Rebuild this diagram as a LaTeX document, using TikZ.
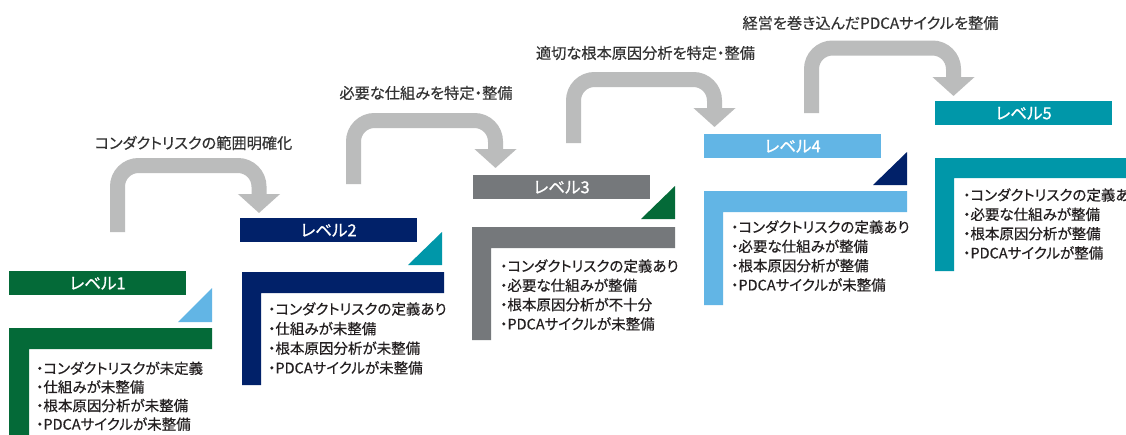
\documentclass[tikz,border=0pt]{standalone}
\usepackage{fontspec}
\newfontfamily\jp{Noto Sans CJK JP}[RawFeature=+palt, FakeBold=0.4]
\newfontfamily\jpbar{Noto Sans CJK JP}[RawFeature=+palt, FakeBold=0.8]
\usetikzlibrary{arrows.meta}
\definecolor{lvgreen}{HTML}{046A38}
\definecolor{lvnavy}{HTML}{012169}
\definecolor{lvgray}{HTML}{75787B}
\definecolor{lvblue}{HTML}{62B5E5}
\definecolor{lvteal}{HTML}{0097A9}
\definecolor{arrgray}{HTML}{BBBCBC}
\definecolor{txt}{HTML}{231F20}
\definecolor{lbl}{HTML}{333333}
\begin{document}
\begin{tikzpicture}[x=1pt,y=-1pt,
  bar/.style={minimum width=177pt, minimum height=24pt, inner sep=0pt, anchor=north west, text=white, font=\jpbar\fontsize{16.5}{16.5}\selectfont},
  item/.style={anchor=west, inner sep=0pt, text=txt, font=\jp\fontsize{14.5}{14.5}\selectfont},
  steplabel/.style={inner sep=0pt, text=lbl, font=\jp\fontsize{15.2}{15.2}\selectfont},
  flow/.style={draw=arrgray, line width=15pt, rounded corners=21pt, -{Triangle[width=41pt,length=19pt]}}]
\useasboundingbox (0,0) rectangle (1126,434);
\fill[white] (0,0) rectangle (1126,434);
\clip (0,0) rectangle (1126,434);

% ---- level bars
\node[bar, fill=lvgreen] (b1) at (9,271) {レベル1};
\node[bar, fill=lvnavy] (b2) at (240,218) {レベル2};
\node[bar, fill=lvgray] (b3) at (473,175) {レベル3};
\node[bar, fill=lvblue] (b4) at (704,134) {レベル4};
\node[bar, fill=lvteal] (b5) at (935,101) {レベル5};

% ---- corner triangles
\fill[lvblue] (178,322) -- (212,322) -- (212,288) -- cycle;
\fill[lvteal] (408,265) -- (442,265) -- (442,232) -- cycle;
\fill[lvgreen] (641,219) -- (675,219) -- (675,186) -- cycle;
\fill[lvnavy] (873,185) -- (907,185) -- (907,152) -- cycle;

% ---- L-shaped frames
\fill[lvgreen] (9,328) -- (212,328) -- (212,349) -- (29,349) -- (29,440) -- (9,440) -- cycle;
\fill[lvnavy] (242,272) -- (444,272) -- (444,293) -- (261,293) -- (261,385) -- (242,385) -- cycle;
\fill[lvgray] (472,227) -- (675,227) -- (675,248) -- (491,248) -- (491,340) -- (472,340) -- cycle;
\fill[lvblue] (704,191) -- (907,191) -- (907,212) -- (723,212) -- (723,305) -- (704,305) -- cycle;
\fill[lvteal] (935,158) -- (1140,158) -- (1140,178) -- (954,178) -- (954,271) -- (935,271) -- cycle;

% ---- item texts
\foreach \t [count=\i] in {・コンダクトリスクが未定義,・仕組みが未整備,・根本原因分析が未整備,・PDCAサイクルが未整備}
  \node[item] (t1\i) at (36,{368.3+18.6*(\i-1)}) {\t};
\foreach \t [count=\i] in {・コンダクトリスクの定義あり,・仕組みが未整備,・根本原因分析が未整備,・PDCAサイクルが未整備}
  \node[item] (t2\i) at (268,{309+19.6*(\i-1)}) {\t};
\foreach \t [count=\i] in {・コンダクトリスクの定義あり,・必要な仕組みが整備,・根本原因分析が不十分,・PDCAサイクルが未整備}
  \node[item] (t3\i) at (500,{266+19.3*(\i-1)}) {\t};
\foreach \t [count=\i] in {・コンダクトリスクの定義あり,・必要な仕組みが整備,・根本原因分析が整備,・PDCAサイクルが未整備}
  \node[item] (t4\i) at (731,{227+19.3*(\i-1)}) {\t};
\foreach \t [count=\i] in {・コンダクトリスクの定義あり,・必要な仕組みが整備,・根本原因分析が整備,・PDCAサイクルが整備}
  \node[item] (t5\i) at (963,{195+19.3*(\i-1)}) {\t};

% ---- flow arrows
\coordinate (a1s) at (117.5,232); \coordinate (a1t) at (259,165.5); \coordinate (a1e) at (259,213);
\coordinate (a2s) at (353.5,184); \coordinate (a2t) at (495.5,120.5); \coordinate (a2e) at (495.5,168);
\coordinate (a3s) at (573.5,143); \coordinate (a3t) at (714.5,79.5); \coordinate (a3e) at (714.5,127);
\coordinate (a4s) at (811.5,113); \coordinate (a4t) at (953.5,48); \coordinate (a4e) at (953.5,96);
\draw[flow] (a1s) |- (a1t) -- (a1e);
\draw[flow] (a2s) |- (a2t) -- (a2e);
\draw[flow] (a3s) |- (a3t) -- (a3e);
\draw[flow] (a4s) |- (a4t) -- (a4e);

% ---- step labels
\node[steplabel] (l1) at (193.5,143) {コンダクトリスクの範囲明確化};
\node[steplabel] (l2) at (426,93) {必要な仕組みを特定・整備};
\node[steplabel] (l3) at (645.5,53) {適切な根本原因分析を特定・整備};
\node[steplabel] (l4) at (870.5,23) {経営を巻き込んだPDCAサイクルを整備};
\end{tikzpicture}
\end{document}
